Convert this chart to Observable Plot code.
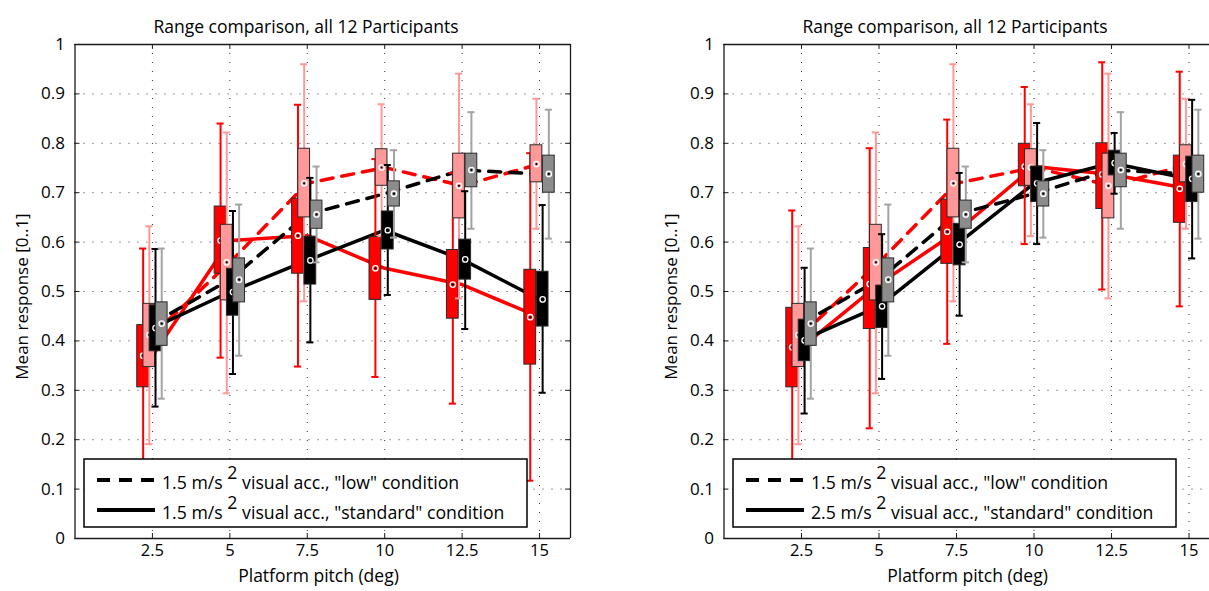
<!DOCTYPE html>
<html><head><meta charset="utf-8">
<script src="https://cdn.jsdelivr.net/npm/d3@7"></script>
<script src="https://cdn.jsdelivr.net/npm/@observablehq/plot@0.6"></script>
<style>
html,body{margin:0;padding:0;background:#fff;overflow:hidden;}
#wrap{position:relative;width:1209px;height:591px;overflow:hidden;font-family:"Open Sans",sans-serif;}
#left{position:absolute;left:0;top:0;}
#right{position:absolute;left:650px;top:0;}
</style></head>
<body><div id="wrap"><div id="left"></div><div id="right"></div></div>
<script>
// ---------- data ----------
const pitch = [2.5, 5, 7.5, 10, 12.5, 15];
const xTickLabels = ["2.5", "5", "7.5", "10", "12.5", "15"];
const yTicks = [0, 0.1, 0.2, 0.3, 0.4, 0.5, 0.6, 0.7, 0.8, 0.9, 1];
const yTickLabels = ["0", "0.1", "0.2", "0.3", "0.4", "0.5", "0.6", "0.7", "0.8", "0.9", "1"];

// each row: [whisker low, q1, median, q3, whisker high]
// "low" condition (1.5 m/s^2) – shared by both panels
const lowPink = [
  [0.191, 0.347, 0.412, 0.475, 0.632],
  [0.294, 0.482, 0.559, 0.635, 0.822],
  [0.480, 0.650, 0.719, 0.789, 0.960],
  [0.612, 0.714, 0.751, 0.788, 0.879],
  [0.486, 0.648, 0.714, 0.779, 0.941],
  [0.627, 0.721, 0.758, 0.796, 0.890]];
const lowGray = [
  [0.283, 0.390, 0.435, 0.478, 0.587],
  [0.370, 0.478, 0.524, 0.567, 0.676],
  [0.559, 0.627, 0.656, 0.684, 0.753],
  [0.609, 0.672, 0.698, 0.723, 0.786],
  [0.627, 0.711, 0.746, 0.779, 0.863],
  [0.607, 0.700, 0.738, 0.775, 0.868]];
// "standard" condition, left panel (1.5 m/s^2)
const std15Red = [
  [0.120, 0.306, 0.370, 0.432, 0.587],
  [0.366, 0.536, 0.603, 0.672, 0.840],
  [0.348, 0.536, 0.613, 0.688, 0.878],
  [0.327, 0.483, 0.547, 0.610, 0.768],
  [0.273, 0.445, 0.514, 0.584, 0.740],
  [0.117, 0.352, 0.448, 0.544, 0.780]];
const std15Black = [
  [0.267, 0.379, 0.426, 0.472, 0.586],
  [0.333, 0.451, 0.499, 0.546, 0.663],
  [0.397, 0.514, 0.563, 0.611, 0.730],
  [0.493, 0.585, 0.624, 0.662, 0.756],
  [0.424, 0.524, 0.565, 0.605, 0.703],
  [0.295, 0.429, 0.484, 0.540, 0.675]];
// "standard" condition, right panel (2.5 m/s^2)
const std25Red = [
  [0.130, 0.306, 0.387, 0.467, 0.664],
  [0.223, 0.424, 0.515, 0.588, 0.790],
  [0.394, 0.556, 0.621, 0.686, 0.848],
  [0.596, 0.713, 0.753, 0.799, 0.914],
  [0.504, 0.667, 0.737, 0.800, 0.964],
  [0.470, 0.639, 0.708, 0.775, 0.945]];
const std25Black = [
  [0.253, 0.359, 0.401, 0.443, 0.548],
  [0.323, 0.426, 0.470, 0.512, 0.616],
  [0.451, 0.553, 0.595, 0.637, 0.740],
  [0.596, 0.681, 0.719, 0.753, 0.841],
  [0.698, 0.735, 0.760, 0.785, 0.821],
  [0.567, 0.681, 0.728, 0.773, 0.888]];

const titleText = "Range comparison, all 12 Participants";
const xLabel = "Platform pitch (deg)";
const yLabel = "Mean response [0..1]";
const legendLeft = [["1.5 m/s", "2", " visual acc., \"low\" condition"],
                    ["1.5 m/s", "2", " visual acc., \"standard\" condition"]];
const legendRight = [["1.5 m/s", "2", " visual acc., \"low\" condition"],
                     ["2.5 m/s", "2", " visual acc., \"standard\" condition"]];

// ---------- helpers ----------
const toRows = arr => pitch.map((p, i) => ({p, lo: arr[i][0], q1: arr[i][1], med: arr[i][2], q3: arr[i][3], hi: arr[i][4]}));
const RED = "#ff0000", PINK = "#ff9999", BLACK = "#000000", GRAY = "#8c8c8c", GRAYW = "#a3a3a3";

function boxMarks(rows, off, fill, wcol) {
  const bw = 0.19, cap = 0.115;
  const cx = d => d.p + off;
  return [
    Plot.ruleX(rows, {x: cx, y1: "lo", y2: "hi", stroke: wcol, strokeWidth: 2}),
    Plot.ruleY(rows, {y: "lo", x1: d => cx(d) - cap, x2: d => cx(d) + cap, stroke: wcol, strokeWidth: 2}),
    Plot.ruleY(rows, {y: "hi", x1: d => cx(d) - cap, x2: d => cx(d) + cap, stroke: wcol, strokeWidth: 2}),
    Plot.rect(rows, {x1: d => cx(d) - bw, x2: d => cx(d) + bw, y1: "q1", y2: "q3", fill, stroke: "#2a2a2a", strokeWidth: 1}),
    Plot.dot(rows, {x: cx, y: "med", r: 2.7, stroke: "#fff", strokeWidth: 1.3, fill: "none"}),
    Plot.dot(rows, {x: cx, y: "med", r: 1.1, fill: "#000", stroke: "none"})
  ];
}

function panel({red, black, xMax, width, marginLeft, marginRight, rightEdge, legend}) {
  const rRed = toRows(red), rPink = toRows(lowPink), rBlack = toRows(black), rGray = toRows(lowGray);
  const tx = 0.16, ty = 0.01;
  const dash = "12,9";
  const svg = Plot.plot({
    width, height: 591, marginLeft, marginRight, marginTop: 44, marginBottom: 53,
    x: {domain: [0, xMax], axis: null},
    y: {domain: [0, 1], axis: null},
    style: {fontFamily: "'Open Sans', sans-serif", fontSize: "17px", color: "#000", background: "#fff", overflow: "visible"},
    marks: [
      Plot.gridX(pitch, {stroke: "#333", strokeOpacity: 1, strokeWidth: 1, strokeDasharray: "1,8"}),
      Plot.gridY(yTicks, {stroke: "#333", strokeOpacity: 1, strokeWidth: 1, strokeDasharray: "1,8"}),
      // connecting lines of medians
      Plot.line(rPink, {x: "p", y: "med", stroke: RED, strokeWidth: 3.5, strokeDasharray: dash}),
      Plot.line(rRed, {x: "p", y: "med", stroke: RED, strokeWidth: 3.5}),
      Plot.line(rGray, {x: "p", y: "med", stroke: BLACK, strokeWidth: 3.5, strokeDasharray: dash}),
      Plot.line(rBlack, {x: "p", y: "med", stroke: BLACK, strokeWidth: 3.5}),
      ...boxMarks(rRed, -0.3, RED, RED),
      ...boxMarks(rPink, -0.1, PINK, PINK),
      ...boxMarks(rBlack, 0.1, BLACK, BLACK),
      ...boxMarks(rGray, 0.3, GRAY, GRAYW),
      // frame
      Plot.ruleY([0, 1], {stroke: "#1a1a1a", strokeWidth: 1.3}),
      Plot.ruleX(rightEdge ? [0, xMax] : [0], {stroke: "#1a1a1a", strokeWidth: 1.3}),
      // inward ticks
      Plot.ruleX(pitch, {x: d => d, y1: 0, y2: ty, stroke: "#1a1a1a"}),
      Plot.ruleX(pitch, {x: d => d, y1: 1 - ty, y2: 1, stroke: "#1a1a1a"}),
      Plot.ruleY(yTicks, {y: d => d, x1: 0, x2: tx, stroke: "#1a1a1a"}),
      ...(rightEdge ? [Plot.ruleY(yTicks, {y: d => d, x1: xMax - tx, x2: xMax, stroke: "#1a1a1a"})] : []),
      // axes text
      Plot.axisX(pitch, {anchor: "bottom", tickSize: 0, tickPadding: 6, fontSize: 16.5, label: null,
        tickFormat: d => xTickLabels[pitch.indexOf(d)]}),
      Plot.axisY(yTicks, {anchor: "left", tickSize: 0, tickPadding: 10, fontSize: 17, label: null,
        tickFormat: d => yTickLabels[yTicks.indexOf(d)]}),
      Plot.text([titleText], {frameAnchor: "top-left", dx: 231, dy: -24, textAnchor: "middle", fontSize: 17.5}),
      Plot.text([xLabel], {frameAnchor: "bottom-left", dx: 243.5, dy: 43, textAnchor: "middle", fontSize: 17.5}),
      Plot.text([yLabel], {frameAnchor: "left", dx: -52, dy: 5, rotate: -90, textAnchor: "middle", fontSize: 17})
    ]
  });
  // legend box (drawn over the plot, as in the original)
  const g = d3.select(svg).append("g").attr("class", "legend").attr("text-anchor", "start");
  const x0 = marginLeft + 9.5, y0 = 459;
  g.append("rect").attr("x", x0).attr("y", y0).attr("width", 443).attr("height", 68)
    .attr("fill", "#fff").attr("stroke", "#000").attr("stroke-width", 1.5);
  const rowsY = [480, 510];
  legend.forEach((parts, i) => {
    g.append("line").attr("x1", x0 + 13).attr("x2", x0 + 71).attr("y1", rowsY[i]).attr("y2", rowsY[i])
      .attr("stroke", "#000").attr("stroke-width", 4)
      .attr("stroke-dasharray", i === 0 ? "13,9" : null);
    const t = g.append("text").attr("x", x0 + 78).attr("y", rowsY[i] + 8.5)
      .attr("text-anchor", "start")
      .attr("font-family", "'Open Sans', sans-serif").attr("font-size", 17.7).attr("fill", "#000")
      .style("white-space", "pre");
    t.append("tspan").text(parts[0] + " ");
    t.append("tspan").attr("dy", -10).text(parts[1]);
    t.append("tspan").attr("dy", 10).text(parts[2]);
  });
  return svg;
}

document.getElementById("left").append(panel({
  red: std15Red, black: std15Black, xMax: 16, width: 650, marginLeft: 74.5, marginRight: 80,
  rightEdge: true, legend: legendLeft
}));
document.getElementById("right").append(panel({
  red: std25Red, black: std25Black, xMax: 15.66, width: 559, marginLeft: 73.5, marginRight: 0,
  rightEdge: false, legend: legendRight
}));
</script>
</body></html>
